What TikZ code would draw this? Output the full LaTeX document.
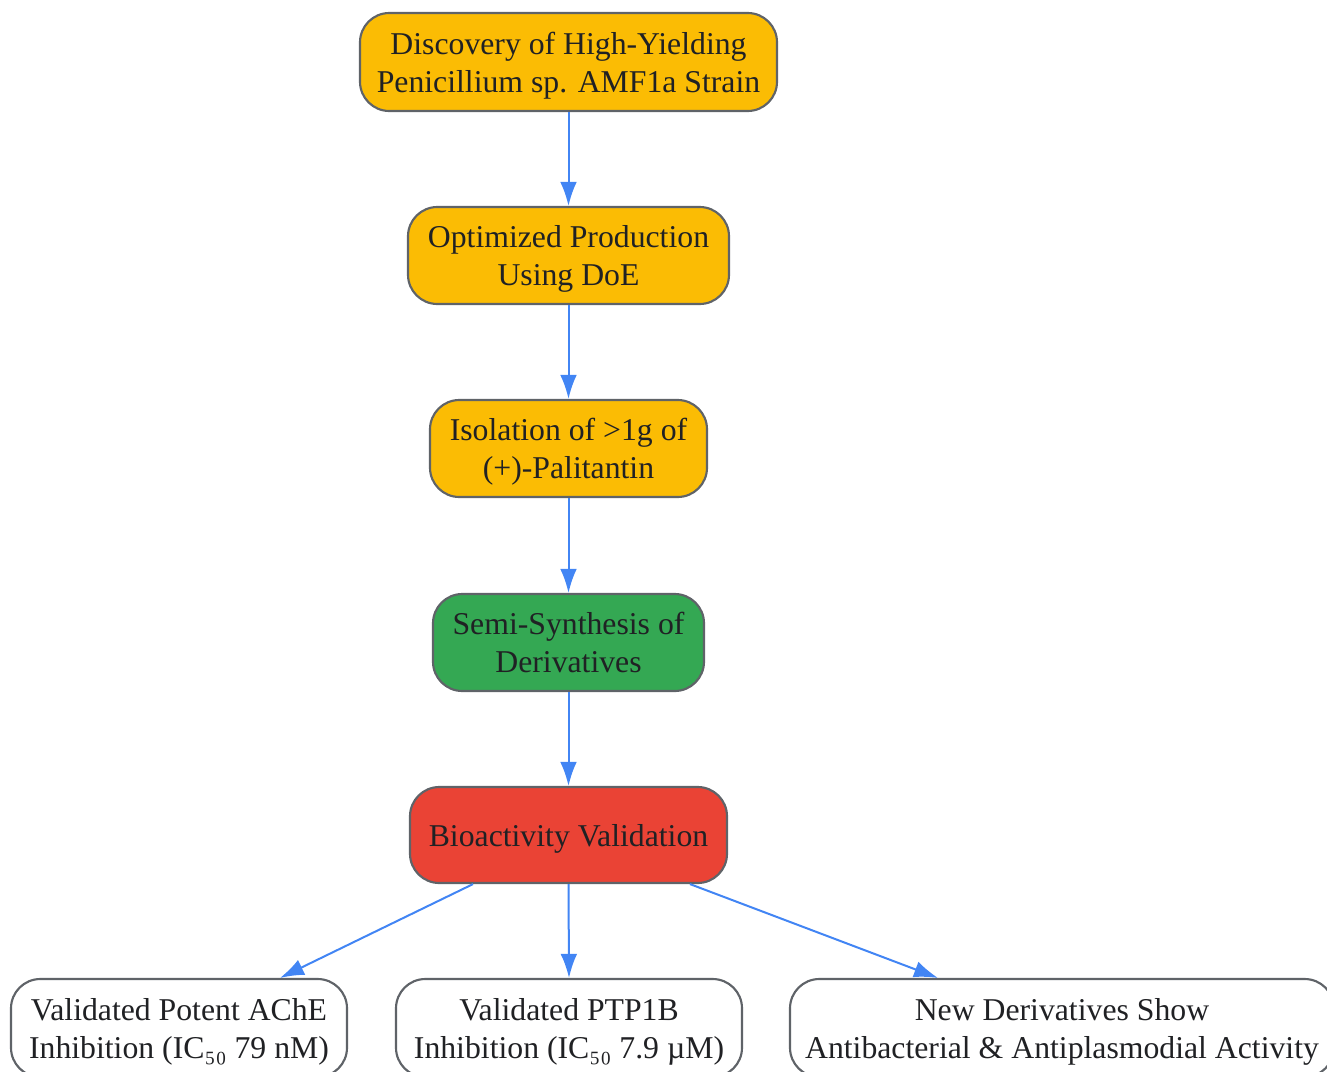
\documentclass[tikz,border=0pt]{standalone}
\usepackage{fontspec}
\setmainfont{Liberation Serif}
\usetikzlibrary{arrows.meta}
\definecolor{stepyellow}{HTML}{FBBC04}
\definecolor{stepgreen}{HTML}{34A853}
\definecolor{stepred}{HTML}{EA4335}
\definecolor{flowblue}{HTML}{4285F4}
\definecolor{boxgray}{HTML}{5F6368}
\definecolor{textdark}{HTML}{202124}

\begin{document}
\begin{tikzpicture}[x=0.75pt,y=-0.75pt,
  box/.style={draw=boxgray, line width=1.6pt, rounded corners=22pt, align=center, inner sep=0pt, text depth=0pt, text=textdark, font=\fontsize{23.8}{28.5}\selectfont},
  flow/.style={draw=flowblue, line width=1.5pt, -{Latex[length=18pt,width=12.5pt]}}]
\useasboundingbox (0,0) rectangle (1327,1071);
\node[box, fill=stepyellow, minimum width=312.75pt, minimum height=73.5pt] (discovery) at (568.5,62) {Discovery of High-Yielding\\Penicillium sp. AMF1a Strain};
\node[box, fill=stepyellow, minimum width=240.75pt, minimum height=72.75pt] (optimized) at (568.5,255.5) {Optimized Production\\Using DoE};
\node[box, fill=stepyellow, minimum width=207.75pt, minimum height=72.75pt] (isolation) at (568.5,448.5) {Isolation of >1g of\\(+)-Palitantin};
\node[box, fill=stepgreen, minimum width=203.25pt, minimum height=72.75pt] (semisynth) at (568.5,642.5) {Semi-Synthesis of\\Derivatives};
\node[box, fill=stepred, minimum width=237.75pt, minimum height=72pt] (bioact) at (568.5,835) {Bioactivity Validation};
\node[box, fill=white, minimum width=252pt, minimum height=73.5pt] (ache) at (179,1028) {Validated Potent AChE\\Inhibition (IC₅₀ 79 nM)};
\node[box, fill=white, minimum width=259.5pt, minimum height=73.5pt] (ptp) at (569,1028) {Validated PTP1B\\Inhibition (IC₅₀ 7.9 µM)};
\node[box, fill=white, minimum width=408pt, minimum height=73.5pt] (newderiv) at (1062,1028) {New Derivatives Show\\Antibacterial \& Antiplasmodial Activity};

\draw[flow] (discovery) -- (optimized);
\draw[flow] (optimized) -- (isolation);
\draw[flow] (isolation) -- (semisynth);
\draw[flow] (semisynth) -- (bioact);
\draw[flow] ([xshift=-71.6pt]bioact.south) -- ([xshift=75.75pt]ache.north);
\draw[flow] (bioact.south) -- (ptp.north);
\draw[flow] ([xshift=91.1pt]bioact.south) -- ([xshift=-93pt]newderiv.north);
\end{tikzpicture}
\end{document}
